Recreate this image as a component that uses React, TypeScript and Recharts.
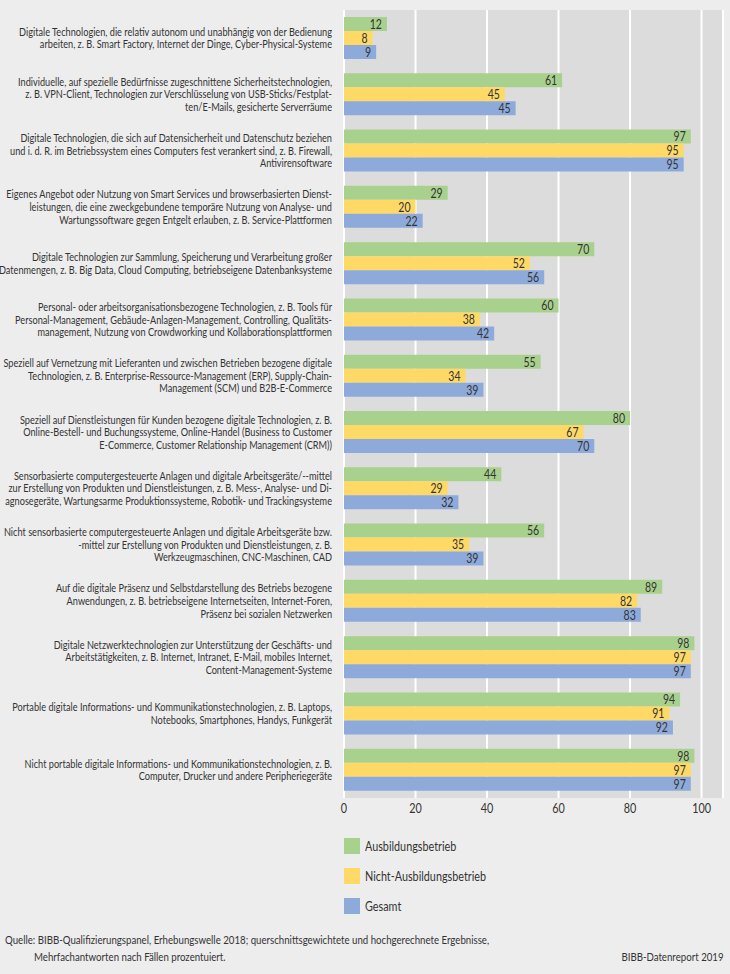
import React from "react";
import { BarChart, Bar, XAxis, YAxis, CartesianGrid, LabelList } from "recharts";

const categories: string[] = [
  "Digitale Technologien, die relativ autonom und unabhängig von der Bedienung\narbeiten, z. B. Smart Factory, Internet der Dinge, Cyber-Physical-Systeme",
  "Individuelle, auf spezielle Bedürfnisse zugeschnittene Sicherheitstechnologien,\nz. B. VPN-Client, Technologien zur Verschlüsselung von USB-Sticks/Festplat-\nten/E-Mails, gesicherte Serverräume",
  "Digitale Technologien, die sich auf Datensicherheit und Datenschutz beziehen\nund i. d. R. im Betriebssystem eines Computers fest verankert sind, z. B. Firewall,\nAntivirensoftware",
  "Eigenes Angebot oder Nutzung von Smart Services und browserbasierten Dienst-\nleistungen, die eine zweckgebundene temporäre Nutzung von Analyse- und\nWartungssoftware gegen Entgelt erlauben, z. B. Service-Plattformen",
  "Digitale Technologien zur Sammlung, Speicherung und Verarbeitung großer\nDatenmengen, z. B. Big Data, Cloud Computing, betriebseigene Datenbanksysteme",
  "Personal- oder arbeitsorganisationsbezogene Technologien, z. B. Tools für\nPersonal-Management, Gebäude-Anlagen-Management, Controlling, Qualitäts-\nmanagement, Nutzung von Crowdworking und Kollaborationsplattformen",
  "Speziell auf Vernetzung mit Lieferanten und zwischen Betrieben bezogene digitale\nTechnologien, z. B. Enterprise-Ressource-Management (ERP), Supply-Chain-\nManagement (SCM) und B2B-E-Commerce",
  "Speziell auf Dienstleistungen für Kunden bezogene digitale Technologien, z. B.\nOnline-Bestell- und Buchungssysteme, Online-Handel (Business to Customer\nE-Commerce, Customer Relationship Management (CRM))",
  "Sensorbasierte computergesteuerte Anlagen und digitale Arbeitsgeräte/--mittel\nzur Erstellung von Produkten und Dienstleistungen, z. B. Mess-, Analyse- und Di-\nagnosegeräte, Wartungsarme Produktionssysteme, Robotik- und Trackingsysteme",
  "Nicht sensorbasierte computergesteuerte Anlagen und digitale Arbeitsgeräte bzw.\n-mittel zur Erstellung von Produkten und Dienstleistungen, z. B.\nWerkzeugmaschinen, CNC-Maschinen, CAD",
  "Auf die digitale Präsenz und Selbstdarstellung des Betriebs bezogene\nAnwendungen, z. B. betriebseigene Internetseiten, Internet-Foren,\nPräsenz bei sozialen Netzwerken",
  "Digitale Netzwerktechnologien zur Unterstützung der Geschäfts- und\nArbeitstätigkeiten, z. B. Internet, Intranet, E-Mail, mobiles Internet,\nContent-Management-Systeme",
  "Portable digitale Informations- und Kommunikationstechnologien, z. B. Laptops,\nNotebooks, Smartphones, Handys, Funkgerät",
  "Nicht portable digitale Informations- und Kommunikationstechnologien, z. B.\nComputer, Drucker und andere Peripheriegeräte",
];

const ausbildungsbetrieb: number[] = [12, 61, 97, 29, 70, 60, 55, 80, 44, 56, 89, 98, 94, 98];
const nichtAusbildungsbetrieb: number[] = [8, 45, 95, 20, 52, 38, 34, 67, 29, 35, 82, 97, 91, 97];
const gesamt: number[] = [9, 48, 95, 22, 56, 42, 39, 70, 32, 39, 83, 97, 92, 97];
const gesamtLabels: number[] = [9, 45, 95, 22, 56, 42, 39, 70, 32, 39, 83, 97, 92, 97];

const xTicks: number[] = [0, 20, 40, 60, 80, 100];

const seriesNames = ["Ausbildungsbetrieb", "Nicht-Ausbildungsbetrieb", "Gesamt"];
const colors = ["#a9d18e", "#ffd966", "#8eaadb"];

const data = categories.map((name, i) => ({
  name,
  a: ausbildungsbetrieb[i],
  n: nichtAusbildungsbetrieb[i],
  g: gesamt[i],
  gLabel: gesamtLabels[i],
}));

const FONT = 'Lato, "Open Sans", sans-serif';
const TEXT = "#333333";
const SQUEEZE = 0.82;

function CategoryTick(props: any) {
  const { x, y, payload } = props;
  const lines: string[] = String(payload.value).split("\n");
  const lh = 12.6;
  const start = -((lines.length - 1) / 2) * lh;
  return (
    <g transform={`translate(${x},${y}) scale(${SQUEEZE},1)`}>
      <text x={0} y={0} textAnchor="end" fill={TEXT} fontSize={11.2} fontFamily={FONT}>
        {lines.map((l, i) => (
          <tspan key={i} x={0} y={start + i * lh} dy="0.36em">
            {l}
          </tspan>
        ))}
      </text>
    </g>
  );
}

function NumberTick(props: any) {
  const { x, y, payload } = props;
  return (
    <g transform={`translate(${x},${y}) scale(0.8,1)`}>
      <text x={0} y={0} dy="0.8em" textAnchor="middle" fill={TEXT} fontSize={13.5} fontFamily={FONT}>
        {payload.value}
      </text>
    </g>
  );
}

function ValueLabel(props: any) {
  const { x, y, width, height, value } = props;
  const tx = Number(x) + Number(width) - 5;
  const ty = Number(y) + Number(height) / 2;
  return (
    <g transform={`translate(${tx},${ty}) scale(0.78,1)`}>
      <text x={0} y={0} dy="0.36em" textAnchor="end" fill={TEXT} fontSize={13.5} fontFamily={FONT}>
        {value}
      </text>
    </g>
  );
}

export default function App() {
  return (
    <div
      style={{
        position: "absolute",
        left: 0,
        top: 0,
        width: 730,
        height: 974,
        background: "#ededed",
        fontFamily: FONT,
        color: TEXT,
        overflow: "hidden",
      }}
    >
      <BarChart
        width={730}
        height={830}
        data={data}
        layout="vertical"
        margin={{ top: 10, right: 7, bottom: 2, left: 0 }}
        barGap={0}
        barSize={14}
      >
        <CartesianGrid
          horizontal={false}
          vertical={true}
          fill="#dcdcdc"
          stroke="#ffffff"
          strokeWidth={2}
        />
        <XAxis
          type="number"
          domain={[0, 106]}
          ticks={xTicks}
          axisLine={false}
          tickLine={false}
          tickSize={0}
          tickMargin={4}
          height={30}
          tick={<NumberTick />}
        />
        <YAxis
          type="category"
          dataKey="name"
          width={344}
          axisLine={false}
          tickLine={false}
          tickSize={0}
          tickMargin={12}
          interval={0}
          tick={<CategoryTick />}
        />
        <Bar dataKey="a" fill={colors[0]} isAnimationActive={false}>
          <LabelList dataKey="a" content={<ValueLabel />} />
        </Bar>
        <Bar dataKey="n" fill={colors[1]} isAnimationActive={false}>
          <LabelList dataKey="n" content={<ValueLabel />} />
        </Bar>
        <Bar dataKey="g" fill={colors[2]} isAnimationActive={false}>
          <LabelList dataKey="gLabel" content={<ValueLabel />} />
        </Bar>
      </BarChart>

      {seriesNames.map((s, i) => (
        <div
          key={s}
          style={{
            position: "absolute",
            left: 344,
            top: 838 + i * 30,
            height: 16,
            display: "flex",
            alignItems: "center",
          }}
        >
          <div style={{ width: 16, height: 16, background: colors[i] }} />
          <div
            style={{
              marginLeft: 5,
              fontSize: 13.5,
              lineHeight: "16px",
              whiteSpace: "nowrap",
              transform: "scaleX(0.8)",
              transformOrigin: "left center",
            }}
          >
            {s}
          </div>
        </div>
      ))}

      <div
        style={{
          position: "absolute",
          left: 5,
          top: 932,
          fontSize: 11.5,
          lineHeight: "16px",
          whiteSpace: "nowrap",
          transform: "scaleX(0.84)",
          transformOrigin: "left center",
        }}
      >
        Quelle: BIBB-Qualifizierungspanel, Erhebungswelle 2018; querschnittsgewichtete und hochgerechnete Ergebnisse,
      </div>
      <div
        style={{
          position: "absolute",
          left: 34,
          top: 949,
          fontSize: 11.5,
          lineHeight: "16px",
          whiteSpace: "nowrap",
          transform: "scaleX(0.84)",
          transformOrigin: "left center",
        }}
      >
        Mehrfachantworten nach Fällen prozentuiert.
      </div>
      <div
        style={{
          position: "absolute",
          right: 6,
          top: 949,
          fontSize: 11.5,
          lineHeight: "16px",
          whiteSpace: "nowrap",
          transform: "scaleX(0.84)",
          transformOrigin: "right center",
        }}
      >
        BIBB-Datenreport 2019
      </div>
    </div>
  );
}
